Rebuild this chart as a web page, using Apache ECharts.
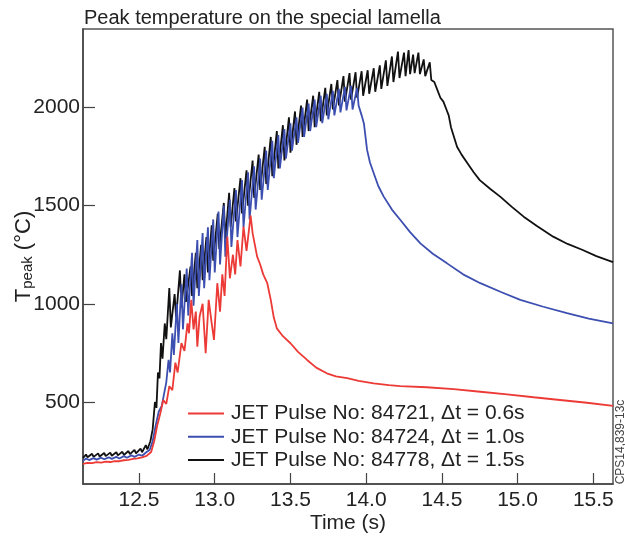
<!DOCTYPE html>
<html>
<head>
<meta charset="utf-8">
<title>Peak temperature</title>
<script src="https://cdn.jsdelivr.net/npm/echarts@6/dist/echarts.min.js"></script>
</head>
<body style="margin:0;background:#fff">
<div id="chart" style="width:625px;height:537px;"></div>
<script>
// values (time in s, peak temperature in degC)
var xTicks = [12.5, 13.0, 13.5, 14.0, 14.5, 15.0, 15.5];
var yTicks = [500, 1000, 1500, 2000];
var names = ['JET Pulse No: 84721, \u0394t = 0.6s', 'JET Pulse No: 84724, \u0394t = 1.0s', 'JET Pulse No: 84778, \u0394t = 1.5s'];

var redTime = [12.13, 12.16, 12.19, 12.22, 12.25, 12.28, 12.31, 12.34, 12.37, 12.40, 12.43, 12.46, 12.49, 12.52, 12.55, 12.58, 12.60, 12.62, 12.64, 12.66,
  12.68, 12.70, 12.72, 12.74, 12.755, 12.78, 12.80, 12.82, 12.83, 12.845, 12.86, 12.875, 12.885, 12.90, 12.92, 12.94, 12.96, 12.98, 12.995, 13.017,
  13.035, 13.05, 13.065, 13.083, 13.10, 13.12, 13.135, 13.15, 13.17, 13.19, 13.21, 13.237, 13.25, 13.265, 13.28, 13.30, 13.32, 13.347, 13.37, 13.39,
  13.41, 13.45, 13.50, 13.55, 13.61, 13.67, 13.74, 13.80, 13.875, 13.95, 14.05, 14.15, 14.226, 14.40, 14.578, 14.754, 14.93, 15.106, 15.28, 15.458, 15.63];
var redTemp = [185, 190, 188, 193, 191, 196, 194, 199, 198, 203, 205, 210, 213, 218, 225, 245, 300, 380, 440, 510,
  490, 580, 560, 700, 650, 800, 760, 900, 850, 1020, 870, 960, 782, 935, 1000, 748, 1020, 900, 816, 1105,
  960, 1150, 1040, 1342, 1130, 1250, 1150, 1325, 1190, 1393, 1270, 1450, 1360, 1300, 1240, 1200, 1150, 1105, 1020, 930,
  875, 835, 799, 755, 714, 675, 646, 630, 621, 607, 595, 586, 581, 575, 565, 552, 539, 524, 510, 496, 480];

var blueTime = [12.13, 12.15, 12.17, 12.20, 12.22, 12.25, 12.27, 12.30, 12.32, 12.35, 12.37, 12.40, 12.42, 12.45, 12.47, 12.50, 12.52, 12.55, 12.57, 12.59,
  12.61, 12.63, 12.65, 12.665, 12.68, 12.695, 12.705, 12.72, 12.73, 12.75, 12.76, 12.78, 12.79, 12.815, 12.825, 12.85, 12.86, 12.885, 12.895, 12.92,
  12.93, 12.955, 12.965, 12.99, 13.00, 13.025, 13.035, 13.06, 13.07, 13.10, 13.11, 13.14, 13.15, 13.18, 13.19, 13.22, 13.23, 13.26, 13.27, 13.30,
  13.31, 13.34, 13.35, 13.38, 13.39, 13.42, 13.43, 13.46, 13.47, 13.50, 13.51, 13.54, 13.55, 13.58, 13.59, 13.62, 13.63, 13.66, 13.67, 13.70,
  13.71, 13.74, 13.75, 13.78, 13.79, 13.82, 13.83, 13.86, 13.87, 13.90, 13.91, 13.94, 13.95, 13.97, 13.985, 14.006, 14.025, 14.05, 14.08, 14.116,
  14.17, 14.226, 14.29, 14.358, 14.44, 14.534, 14.64, 14.754, 14.89, 15.018, 15.17, 15.326, 15.47, 15.63];
var blueTemp = [200, 212, 204, 214, 206, 216, 208, 218, 210, 220, 212, 224, 216, 228, 220, 232, 226, 245, 255, 300,
  380, 450, 480, 540, 600, 714, 650, 850, 740, 1000, 800, 1100, 870, 1180, 940, 1260, 990, 1325, 1040, 1360,
  1080, 1390, 1120, 1430, 1160, 1470, 1200, 1500, 1240, 1530, 1290, 1580, 1340, 1630, 1390, 1670, 1430, 1700, 1480, 1740,
  1530, 1780, 1580, 1830, 1640, 1860, 1690, 1890, 1740, 1920, 1780, 1950, 1820, 2000, 1850, 2020, 1880, 2040, 1900, 2060,
  1920, 2070, 1940, 2085, 1960, 2095, 1975, 2105, 1985, 2110, 1990, 2100, 2010, 1960, 1919, 1784, 1720, 1665, 1600, 1546,
  1480, 1427, 1365, 1308, 1255, 1206, 1150, 1105, 1060, 1020, 985, 952, 925, 900];

var blackTime = [12.13, 12.15, 12.16, 12.19, 12.20, 12.23, 12.24, 12.27, 12.28, 12.31, 12.32, 12.35, 12.36, 12.39, 12.40, 12.43, 12.44, 12.47, 12.48, 12.51,
  12.52, 12.545, 12.555, 12.575, 12.59, 12.605, 12.615, 12.625, 12.635, 12.645, 12.655, 12.67, 12.68, 12.70, 12.71, 12.735, 12.745, 12.77, 12.78, 12.80,
  12.81, 12.84, 12.85, 12.875, 12.885, 12.91, 12.92, 12.945, 12.955, 12.98, 12.99, 13.02, 13.03, 13.06, 13.07, 13.095, 13.105, 13.13, 13.14, 13.17,
  13.18, 13.21, 13.22, 13.25, 13.26, 13.29, 13.30, 13.33, 13.34, 13.37, 13.38, 13.41, 13.42, 13.45, 13.46, 13.49, 13.50, 13.53, 13.54, 13.57,
  13.58, 13.61, 13.62, 13.65, 13.66, 13.69, 13.70, 13.73, 13.74, 13.77, 13.78, 13.81, 13.82, 13.85, 13.86, 13.89, 13.90, 13.93, 13.94, 13.97,
  13.98, 14.01, 14.02, 14.05, 14.06, 14.09, 14.10, 14.13, 14.14, 14.17, 14.18, 14.21, 14.22, 14.25, 14.26, 14.28, 14.29, 14.31, 14.32, 14.345,
  14.355, 14.38, 14.39, 14.42, 14.43, 14.45, 14.47, 14.49, 14.51, 14.53, 14.545, 14.56, 14.58, 14.60, 14.63, 14.67, 14.71, 14.75, 14.82, 14.885,
  14.96, 15.04, 15.13, 15.235, 15.33, 15.43, 15.52, 15.63];
var blackTemp = [215, 232, 218, 236, 220, 238, 222, 240, 224, 242, 226, 244, 228, 246, 230, 250, 234, 256, 238, 262,
  244, 280, 258, 300, 360, 500, 470, 650, 620, 800, 720, 900, 820, 1080, 880, 1050, 930, 1170, 980, 1150,
  1010, 1190, 1040, 1260, 1080, 1300, 1120, 1340, 1160, 1400, 1220, 1460, 1280, 1514, 1330, 1565, 1390, 1590, 1420, 1640,
  1460, 1680, 1500, 1730, 1540, 1760, 1580, 1800, 1610, 1850, 1650, 1880, 1690, 1910, 1730, 1950, 1770, 1980, 1810, 2010,
  1850, 2040, 1880, 2060, 1900, 2080, 1930, 2100, 1960, 2120, 1990, 2140, 2010, 2160, 2030, 2175, 2040, 2180, 2050, 2185,
  2060, 2190, 2070, 2200, 2080, 2215, 2095, 2240, 2110, 2260, 2130, 2285, 2150, 2280, 2160, 2293, 2170, 2270, 2175, 2280,
  2170, 2245, 2160, 2230, 2140, 2130, 2090, 2050, 2030, 1990, 1960, 1900, 1850, 1800, 1760, 1715, 1670, 1630, 1585, 1546,
  1495, 1444, 1395, 1342, 1305, 1274, 1243, 1212];

function pairs(t, v) {
  var out = [];
  for (var i = 0; i < t.length; i++) out.push([t[i], v[i]]);
  return out;
}

var chart = echarts.init(document.getElementById('chart'));
var font = 'Liberation Sans, Arial, sans-serif';

var option = {
  animation: false,
  textStyle: { fontFamily: font },
  title: {
    text: 'Peak temperature on the special lamella',
    left: 79,
    top: 3,
    textStyle: { fontSize: 20, fontWeight: 'normal', color: '#222', fontFamily: font }
  },
  grid: {
    left: 83, right: 12, top: 29, bottom: 53,
    outerBoundsMode: 'none',
    containLabel: false,
    show: true, borderColor: '#555', borderWidth: 1.5
  },
  legend: {
    data: names,
    orient: 'vertical',
    left: 183,
    top: 398,
    icon: 'rect',
    itemWidth: 36,
    itemHeight: 2,
    itemGap: 2.3,
    textStyle: { fontSize: 21, color: '#222', fontFamily: font, padding: [0, 0, 0, 2] }
  },
  xAxis: {
    type: 'value',
    min: 12.13,
    max: 15.63,
    name: 'Time (s)',
    nameLocation: 'middle',
    nameGap: 29,
    nameMoveOverlap: false,
    nameTextStyle: { fontSize: 21, color: '#222', fontFamily: font },
    splitLine: { show: false },
    axisLine: { lineStyle: { color: '#444', width: 1.5 } },
    axisTick: { inside: true, length: 11, lineStyle: { color: '#444', width: 1.2 }, customValues: xTicks },
    axisLabel: {
      fontSize: 21, color: '#222', margin: 6, fontFamily: font,
      customValues: xTicks,
      formatter: function (v) { return v.toFixed(1); }
    }
  },
  yAxis: {
    type: 'value',
    min: 82,
    max: 2400,
    name: '{a|T}{b|peak}{a| (\u00b0C)}',
    nameLocation: 'middle',
    nameGap: 48,
    nameRotate: 90,
    nameMoveOverlap: false,
    nameTextStyle: {
      color: '#222', fontFamily: font,
      rich: {
        a: { fontSize: 22, lineHeight: 22, verticalAlign: 'top', color: '#222', fontFamily: font },
        b: { fontSize: 15, lineHeight: 15, padding: [12, 0, 0, 0], verticalAlign: 'bottom', color: '#222', fontFamily: font }
      }
    },
    splitLine: { show: false },
    axisLine: { show: true, lineStyle: { color: '#444', width: 1.5 } },
    axisTick: { show: true, inside: true, length: 12, lineStyle: { color: '#444', width: 1.2 }, customValues: yTicks },
    axisLabel: {
      fontSize: 21, color: '#222', margin: 3, fontFamily: font, customValues: yTicks,
      formatter: function (v) { return String(v); }
    }
  },
  graphic: [{
    type: 'text',
    x: 621,
    y: 442,
    rotation: Math.PI / 2,
    style: {
      text: 'CPS14,839-13c',
      fontSize: 12,
      fontFamily: font,
      fill: '#444',
      textAlign: 'center',
      textVerticalAlign: 'middle'
    }
  }],
  series: [
    {
      name: names[2], type: 'line', showSymbol: false,
      data: pairs(blackTime, blackTemp),
      itemStyle: { color: '#111111' },
      lineStyle: { color: '#111111', width: 1.8 }
    },
    {
      name: names[1], type: 'line', showSymbol: false,
      data: pairs(blueTime, blueTemp),
      itemStyle: { color: '#3c4fb0' },
      lineStyle: { color: '#3c4fb0', width: 1.8 }
    },
    {
      name: names[0], type: 'line', showSymbol: false,
      data: pairs(redTime, redTemp),
      itemStyle: { color: '#ec3a36' },
      lineStyle: { color: '#ec3a36', width: 1.8 }
    }
  ]
};
chart.setOption(option);
</script>
</body>
</html>
